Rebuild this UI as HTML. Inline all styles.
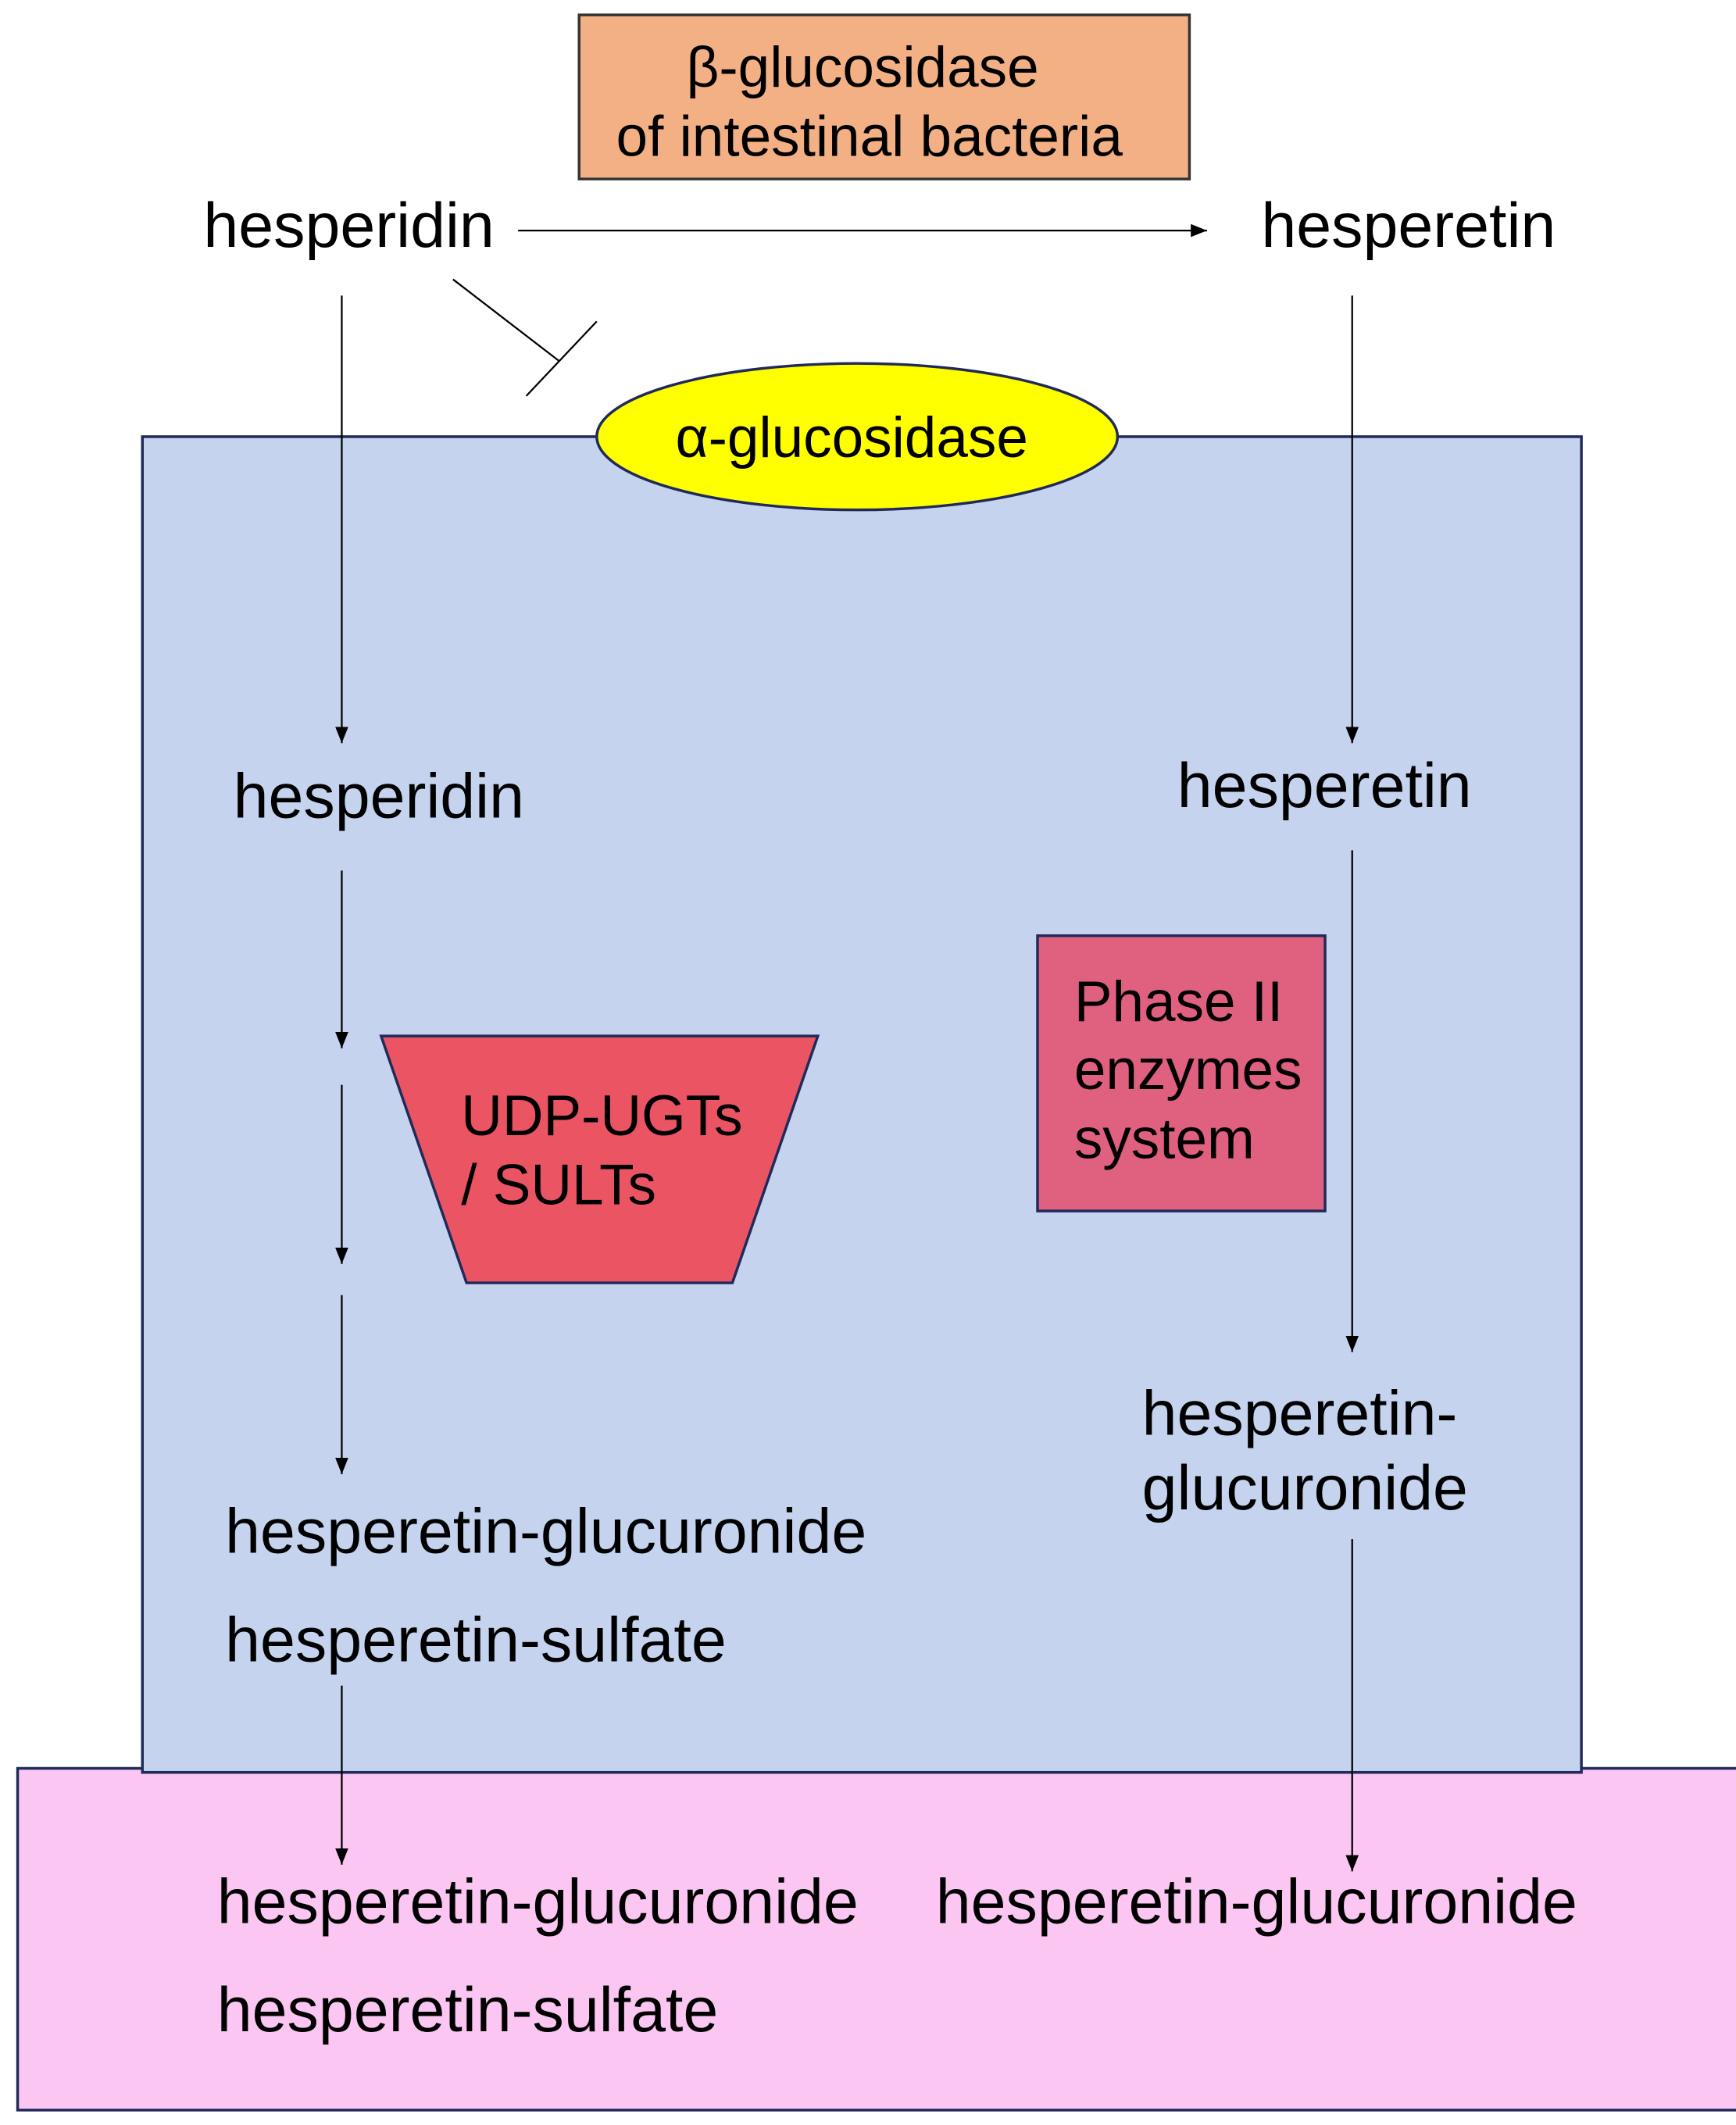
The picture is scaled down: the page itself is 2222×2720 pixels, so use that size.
<!DOCTYPE html>
<html><head><meta charset="utf-8"><style>html,body{margin:0;padding:0;background:#fff}svg{display:block}</style></head>
<body>
<svg xmlns="http://www.w3.org/2000/svg" width="2222" height="2720" viewBox="0 0 1280 1567" preserveAspectRatio="none" font-family="Liberation Sans, Arial, sans-serif">
<defs><marker id="a" viewBox="0 0 10 10" refX="10" refY="5" markerWidth="12" markerHeight="12" markerUnits="userSpaceOnUse" orient="auto"><path d="M0,1 L10,5 L0,9 z" fill="#000"/></marker></defs>
<rect x="0" y="0" width="1280" height="1567" fill="#fff"/>
<rect x="13" y="1304" width="1270" height="252" fill="#fbc6f2" stroke="#1f2a5a" stroke-width="2"/>
<rect x="105" y="322" width="1061" height="985" fill="#c5d3ee" stroke="#1f2a5a" stroke-width="2"/>
<rect x="427" y="11" width="450" height="121" fill="#f3b084" stroke="#333" stroke-width="2"/>
<text x="636" y="64" font-size="42" text-anchor="middle">β-glucosidase</text>
<text x="641" y="115" font-size="42" text-anchor="middle">of intestinal bacteria</text>
<text x="150" y="182" font-size="46.5">hesperidin</text>
<text x="930" y="182" font-size="46.5">hesperetin</text>
<line x1="382" y1="170" x2="890" y2="170" stroke="#000" stroke-width="1.3" marker-end="url(#a)"/>
<line x1="334" y1="206" x2="412" y2="266" stroke="#000" stroke-width="1.3"/>
<line x1="388" y1="292" x2="440" y2="237" stroke="#000" stroke-width="1.3"/>
<ellipse cx="632" cy="322" rx="192" ry="54" fill="#ffff00" stroke="#1f2a5a" stroke-width="2"/>
<text x="628" y="337" font-size="42" text-anchor="middle">α-glucosidase</text>
<g stroke="#000" stroke-width="1.3" fill="none">
<line x1="252" y1="218" x2="252" y2="548" marker-end="url(#a)"/>
<line x1="252" y1="642" x2="252" y2="773" marker-end="url(#a)"/>
<line x1="252" y1="800" x2="252" y2="932" marker-end="url(#a)"/>
<line x1="252" y1="955" x2="252" y2="1087" marker-end="url(#a)"/>
<line x1="252" y1="1243" x2="252" y2="1375" marker-end="url(#a)"/>
<line x1="997" y1="218" x2="997" y2="548" marker-end="url(#a)"/>
<line x1="997" y1="627" x2="997" y2="997" marker-end="url(#a)"/>
<line x1="997" y1="1135" x2="997" y2="1380" marker-end="url(#a)"/>
</g>
<text x="172" y="603" font-size="46.5">hesperidin</text>
<text x="868" y="595" font-size="46.5">hesperetin</text>
<polygon points="281,764 603,764 540,946 344,946" fill="#eb5463" stroke="#1f2a5a" stroke-width="2"/>
<text x="340" y="837" font-size="42">UDP-UGTs</text>
<text x="340" y="888" font-size="42">/ SULTs</text>
<rect x="765" y="690" width="212" height="203" fill="#e06080" stroke="#1f2a5a" stroke-width="2"/>
<text x="792" y="753" font-size="42">Phase II</text>
<text x="792" y="803" font-size="42">enzymes</text>
<text x="792" y="854" font-size="42">system</text>
<text x="166" y="1145" font-size="46.5">hesperetin-glucuronide</text>
<text x="166" y="1225" font-size="46.5">hesperetin-sulfate</text>
<text x="842" y="1058" font-size="46.5">hesperetin-</text>
<text x="842" y="1113" font-size="46.5">glucuronide</text>
<text x="160" y="1418" font-size="46.5">hesperetin-glucuronide</text>
<text x="160" y="1498" font-size="46.5">hesperetin-sulfate</text>
<text x="690" y="1418" font-size="46.5">hesperetin-glucuronide</text>
</svg>
</body></html>
